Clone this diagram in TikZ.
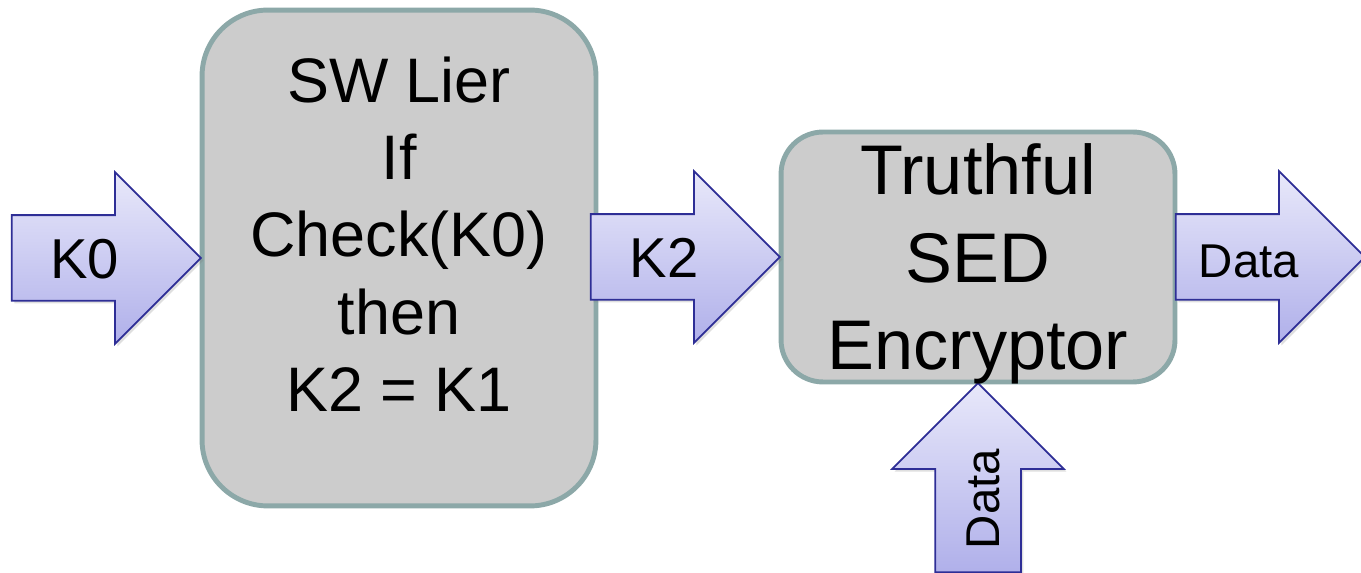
\documentclass[tikz,border=0pt]{standalone}
\usepackage{fontspec}
\setmainfont{Liberation Sans}
\usepackage{xcolor}
\usepackage{tikz}
\usetikzlibrary{positioning,shapes.arrows,shadows}

\definecolor{boxfill}{RGB}{204,204,204}
\definecolor{boxline}{RGB}{140,168,168}
\definecolor{arrowtop}{RGB}{232,232,250}
\definecolor{arrowbottom}{RGB}{176,176,234}
\definecolor{arrowline}{RGB}{46,46,150}

\tikzset{
	block/.style={rounded corners=#1, draw=boxline, line width=2.8pt, fill=boxfill, inner sep=0pt, outer sep=0pt, minimum width=7.88cm},
	bigarrow/.style={single arrow, draw=arrowline, line width=1pt, top color=arrowtop, bottom color=arrowbottom,
		single arrow head extend=0.86cm, minimum height=3.78cm, text height=0.84cm, text depth=0cm, inner ysep=0.42cm,
		drop shadow={shadow xshift=0.05cm, shadow yshift=-0.05cm, opacity=0.25}},
}

\begin{document}
\begin{tikzpicture}[x=0.02cm, y=-0.02cm]
	\useasboundingbox (0,0) rectangle (1361,573);

	\node[block=1.32cm, minimum height=9.92cm] (lier) at (399,258) {};
	\node[align=center, font=\fontsize{35.8}{44}\selectfont] (liertext) at (399,234) {SW Lier\\If\\Check(K0)\\then\\K2 = K1};
	\node[block=0.84cm, minimum height=5cm] (sed) at (978,257) {};

	\node[bigarrow, anchor=tip, font=\fontsize{32}{38}\selectfont] (k0) at (lier.west) {K0};
	\node[bigarrow, anchor=tip, font=\fontsize{32}{38}\selectfont] (k2) at (sed.west) {K2};
	\node[bigarrow, anchor=tail, font=\fontsize{27}{32}\selectfont] (dataout) at (sed.east) {Data};
	\node[bigarrow, rotate=90, anchor=tip, font=\fontsize{27}{32}\selectfont] (datain) at (sed.south) {Data};

	\node[align=center, font=\fontsize{40}{49.8}\selectfont] (sedtext) at (978,264) {Truthful\\SED\\Encryptor};
\end{tikzpicture}
\end{document}
